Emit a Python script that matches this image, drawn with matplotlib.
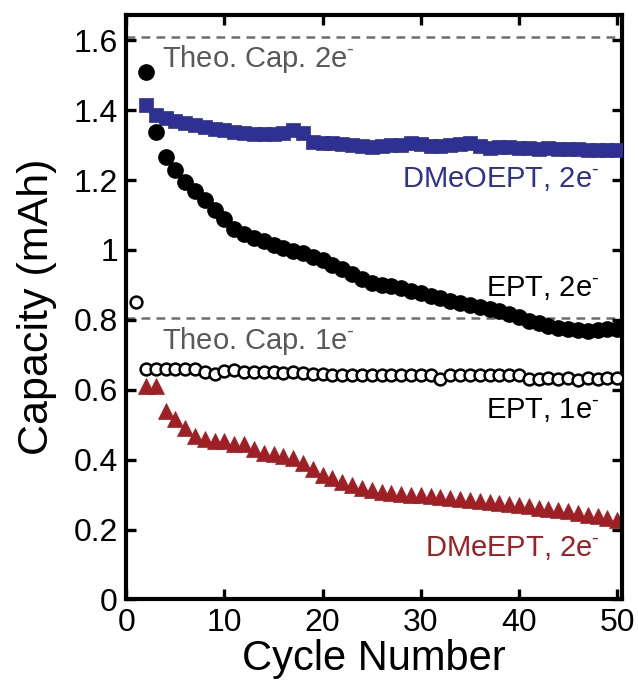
import numpy as np
import matplotlib
matplotlib.use("Agg")
from matplotlib import pyplot as plt

plt.rcParams['font.family'] = ['Liberation Sans', 'DejaVu Sans']
plt.rcParams['mathtext.fontset'] = 'custom'
plt.rcParams['mathtext.rm'] = 'Liberation Sans'
plt.rcParams['mathtext.it'] = 'Liberation Sans:italic'

# Datos (capacidad en mAh por ciclo)
ept_2e = [1.51, 1.337, 1.265, 1.228, 1.194, 1.168, 1.142, 1.113, 1.09, 1.061,
          1.047, 1.035, 1.025, 1.015, 1.005, 0.998, 0.99, 0.98, 0.97, 0.957,
          0.945, 0.932, 0.918, 0.905, 0.9, 0.898, 0.892, 0.884, 0.876, 0.869,
          0.862, 0.855, 0.848, 0.842, 0.838, 0.832, 0.826, 0.818, 0.808, 0.797,
          0.79, 0.783, 0.778, 0.774, 0.772, 0.769, 0.772, 0.775, 0.775]   # ciclos 2-50

ept_1e = [0.85, 0.66, 0.66, 0.66, 0.66, 0.66, 0.66, 0.652, 0.645, 0.655,
          0.657, 0.652, 0.65, 0.652, 0.65, 0.648, 0.65, 0.648, 0.645, 0.645,
          0.643, 0.643, 0.643, 0.643, 0.643, 0.643, 0.643, 0.643, 0.643, 0.643,
          0.643, 0.632, 0.643, 0.643, 0.643, 0.643, 0.643, 0.643, 0.643, 0.643,
          0.632, 0.632, 0.635, 0.63, 0.635, 0.628, 0.635, 0.632, 0.634, 0.634]   # ciclos 1-50

dmeoept_2e = [1.414, 1.386, 1.377, 1.368, 1.362, 1.357, 1.352, 1.347, 1.342, 1.337,
              1.334, 1.333, 1.333, 1.333, 1.335, 1.342, 1.334, 1.308, 1.307, 1.305,
              1.302, 1.300, 1.298, 1.295, 1.297, 1.30, 1.30, 1.305, 1.303, 1.297,
              1.298, 1.30, 1.302, 1.305, 1.298, 1.292, 1.295, 1.295, 1.293, 1.292,
              1.29, 1.292, 1.29, 1.29, 1.288, 1.285, 1.285, 1.285, 1.285]   # ciclos 2-50

dmeept_2e = [0.611, 0.611, 0.539, 0.516, 0.49, 0.468, 0.459, 0.453, 0.453, 0.444,
             0.444, 0.43, 0.42, 0.415, 0.41, 0.405, 0.39, 0.372, 0.357, 0.347,
             0.337, 0.328, 0.32, 0.312, 0.308, 0.305, 0.302, 0.30, 0.298, 0.295,
             0.293, 0.29, 0.288, 0.285, 0.283, 0.28, 0.277, 0.274, 0.27, 0.267,
             0.263, 0.26, 0.256, 0.252, 0.248, 0.243, 0.238, 0.232, 0.226]   # ciclos 2-50

teo_2e = 1.61
teo_1e = 0.805

x_ticks = [0, 10, 20, 30, 40, 50]
y_ticks = [0, 0.2, 0.4, 0.6, 0.8, 1, 1.2, 1.4, 1.6]
y_labels = ['0', '0.2', '0.4', '0.6', '0.8', '1', '1.2', '1.4', '1.6']

azul = '#2E3192'
rojo = '#9E1F24'
gris = '#58595B'

fig = plt.figure(figsize=(6.38, 6.89), dpi=100)
ax = fig.add_axes([0.198, 0.130, 0.777, 0.848])

# Lineas de capacidad teorica
ax.axhline(teo_2e, color='#6D6E71', ls=(0, (3.5, 2.5)), lw=1.8, zorder=1)
ax.axhline(teo_1e, color='#6D6E71', ls=(0, (3.5, 2.5)), lw=1.8, zorder=1)

c_ept_1e = np.arange(1, 1 + len(ept_1e))
c_2 = np.arange(2, 2 + len(ept_2e))

ax.plot(np.arange(2, 2 + len(dmeept_2e)), dmeept_2e, ls='none', marker='^',
        ms=11.5, color=rojo, mec=rojo, mew=0.5, zorder=2)
ax.plot(c_ept_1e, ept_1e, ls='none', marker='o', ms=8.5, mfc='white',
        mec='black', mew=1.8, zorder=3)
ax.plot(np.arange(2, 2 + len(dmeoept_2e)), dmeoept_2e, ls='none', marker='s',
        ms=9.5, color=azul, mec=azul, mew=0.5, zorder=3)
ax.plot(c_2, ept_2e, ls='none', marker='o', ms=11, color='black', zorder=4)

# Etiquetas
fs_txt = 21
sup = r'$^{\text{-}}$'
ax.text(3.6, 1.523, 'Theo. Cap. 2e' + sup, color=gris, fontsize=fs_txt)
ax.text(3.6, 0.717, 'Theo. Cap. 1e' + sup, color=gris, fontsize=fs_txt)
ax.text(48.2, 1.18, 'DMeOEPT, 2e' + sup, color=azul, fontsize=fs_txt, ha='right')
ax.text(48.2, 0.869, 'EPT, 2e' + sup, color='black', fontsize=fs_txt, ha='right')
ax.text(48.2, 0.519, 'EPT, 1e' + sup, color='black', fontsize=fs_txt, ha='right')
ax.text(48.2, 0.123, 'DMeEPT, 2e' + sup, color=rojo, fontsize=fs_txt, ha='right')

ax.set_xlim(0, 50.5)
ax.set_ylim(0, 1.672)
ax.set_xticks(x_ticks)
ax.set_yticks(y_ticks)
ax.set_yticklabels(y_labels)
ax.tick_params(direction='in', length=7, width=2.4, labelsize=23,
               top=True, right=True, pad=6)
for sp in ax.spines.values():
    sp.set_linewidth(3.0)

ax.set_xlabel('Cycle Number', fontsize=30, labelpad=1)
ax.set_ylabel('Capacity (mAh)', fontsize=31, labelpad=12)

fig.savefig('out.png', dpi=100)
